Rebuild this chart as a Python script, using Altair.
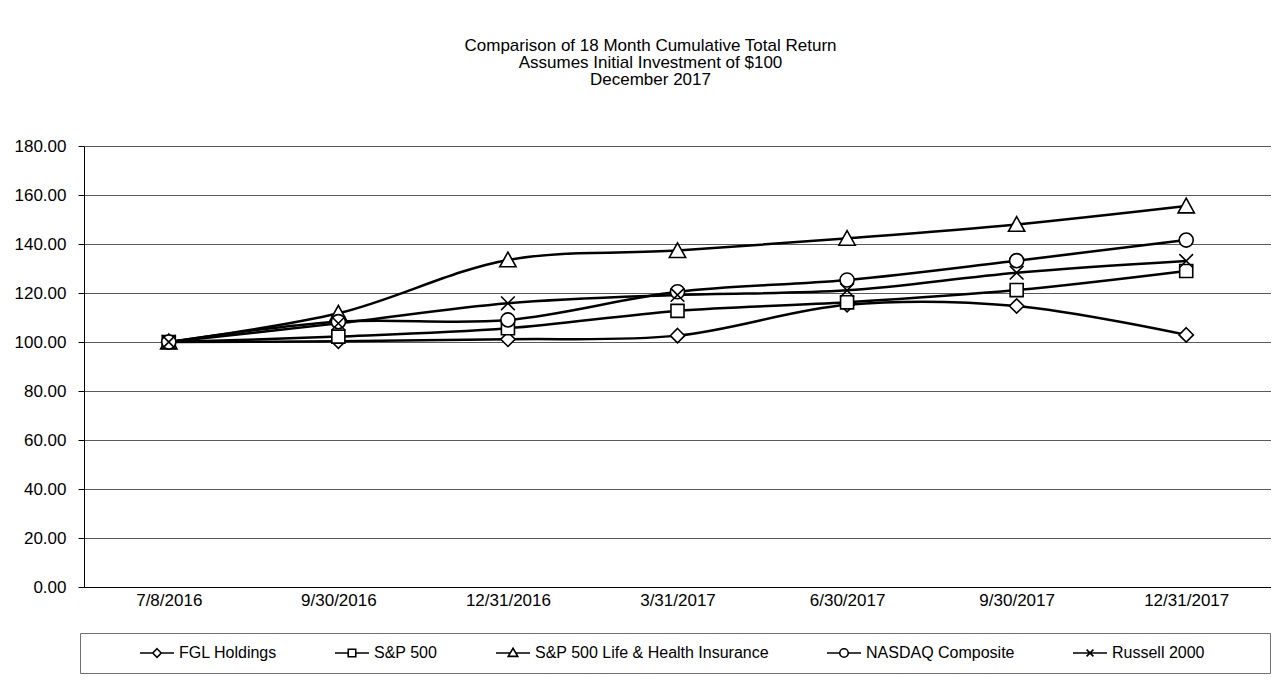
import altair as alt
import pandas as pd

# ---------------- data ----------------
dates = ["7/8/2016", "9/30/2016", "12/31/2016", "3/31/2017",
         "6/30/2017", "9/30/2017", "12/31/2017"]
series_names = ["FGL Holdings", "S&P 500", "S&P 500 Life & Health Insurance",
                "NASDAQ Composite", "Russell 2000"]
fgl = [100.0, 100.3, 101.1, 102.6, 115.2, 114.7, 102.9]
sp500 = [100.0, 102.2, 105.6, 112.7, 116.2, 121.2, 129.0]
sp500_lh = [100.0, 111.7, 133.5, 137.3, 142.3, 148.0, 155.5]
nasdaq = [100.0, 108.3, 109.0, 120.5, 125.3, 133.2, 141.6]
russell = [100.0, 107.6, 115.8, 119.2, 121.1, 128.3, 133.1]
y_ticks = [0, 20, 40, 60, 80, 100, 120, 140, 160, 180]
title_lines = ["Comparison of 18 Month Cumulative Total Return",
               "Assumes Initial Investment of $100",
               "December 2017"]

rows = []
for name, vals in zip(series_names, [fgl, sp500, sp500_lh, nasdaq, russell]):
    for i, (d, v) in enumerate(zip(dates, vals)):
        rows.append({"date": d, "series": name, "value": v, "idx": i})
df = pd.DataFrame(rows)

# ---------------- styles ----------------
FONT = "Liberation Sans"

# chart markers (custom paths, unit box)
k = 1.08 * 0.5523
marker_paths = [
    "M0,-1.1L1.1,0L0,1.1L-1.1,0Z",                       # diamond
    "M-1,-1L1,-1L1,1L-1,1Z",                             # square
    "M0,-1.2L1.25,1.05L-1.25,1.05Z",                     # triangle
    (f"M1.08,0C1.08,{k} {k},1.08 0,1.08C-{k},1.08 -1.08,{k} -1.08,0"
     f"C-1.08,-{k} -{k},-1.08 0,-1.08C{k},-1.08 1.08,-{k} 1.08,0Z"),  # circle
    "M-1.05,-1.05L1.05,1.05M-1.05,1.05L1.05,-1.05",      # x
]

# legend symbols: line with a small marker (1 unit = 5 px, line spans +-17 px)
L = 3.4          # half length of the legend line, in units
m = 0.85         # marker half size, in units
c = m * 0.5523
t = 0.163 * L
legend_paths = [
    f"M-{L},0L-{m},0M{m},0L{L},0M0,-{m}L{m},0L0,{m}L-{m},0Z",
    f"M-{L},0L-0.75,0M0.75,0L{L},0M-0.75,-0.75L0.75,-0.75L0.75,0.75L-0.75,0.75Z",
    f"M-{L},0L-{t},0M{t},0L{L},0M0,-0.95L0.95,0.68L-0.95,0.68Z",
    (f"M-{L},0L-{m},0M{m},0L{L},0M{m},0C{m},{c} {c},{m} 0,{m}"
     f"C-{c},{m} -{m},{c} -{m},0C-{m},-{c} -{c},-{m} 0,-{m}"
     f"C{c},-{m} {m},-{c} {m},0Z"),
    f"M-{L},0L{L},0M-0.68,-0.68L0.68,0.68M-0.68,0.68L0.68,-0.68",
]

ZW = "\u200b"
lead_space = ZW + "\u00a0" * 10 + ZW
trail_space = "\u00a0" * 12 + ZW

x_enc = alt.X(
    "date:N", sort=dates,
    scale=alt.Scale(type="point", padding=0.5),
    axis=alt.Axis(title=None, labelAngle=0, labelFontSize=17, labelFont=FONT,
                  labelColor="black", ticks=False, tickSize=0, labelPadding=5,
                  domainColor="black", domainWidth=1, grid=False),
)
y_enc = alt.Y(
    "value:Q",
    scale=alt.Scale(domain=[0, 180], nice=False, zero=True),
    axis=alt.Axis(title=None, values=y_ticks, format=".2f", labelFontSize=17,
                  labelFont=FONT, labelColor="black", tickSize=6,
                  tickColor="black", labelPadding=12, domainColor="black",
                  grid=True, gridColor="#5a5a5a", gridWidth=1),
)

base = alt.Chart(df)

lines = base.mark_line(interpolate="catmull-rom", color="black",
                       strokeWidth=2.5).encode(
    x=x_enc, y=y_enc, detail="series:N", order=alt.Order("idx:Q"))

points = base.mark_point(filled=True, fill="white", stroke="black",
                         strokeWidth=1.6, size=170, opacity=1).encode(
    x=x_enc, y=y_enc,
    shape=alt.Shape("series:N",
                    scale=alt.Scale(domain=series_names, range=marker_paths),
                    legend=None))

legend_layer = base.transform_filter("datum.idx < 0").mark_point(
    filled=False, color="black", stroke="black", strokeWidth=1.6, size=100
).encode(
    x=x_enc, y=y_enc,
    shape=alt.Shape(
        "series:N",
        scale=alt.Scale(domain=series_names, range=legend_paths),
        legend=alt.Legend(
            orient="none", legendX=-4, legendY=487, direction="horizontal",
            columns=5, title=lead_space, titleOrient="left", titlePadding=12,
            titleFontSize=16, titleFont=FONT, titleColor="white",
            padding=12, columnPadding=54, labelOffset=14,
            symbolSize=100, symbolStrokeWidth=1.6,
            symbolStrokeColor="black", symbolOpacity=1,
            strokeColor="#707070", labelFontSize=16, labelFont=FONT,
            labelColor="black", labelLimit=600,
            labelExpr=f"datum.label == 'Russell 2000' ? datum.label + '{trail_space}' : datum.label",
        )))

chart = alt.layer(lines, points, legend_layer).resolve_scale(
    shape="independent"
).properties(
    width=1187, height=441,
    autosize=alt.AutoSizeParams(type="none"),
    padding={"left": 76, "top": 138, "right": 0, "bottom": 90},
    title=alt.Title(text=title_lines, fontSize=17, font=FONT,
                    fontWeight="normal", anchor="middle", offset=48, dx=-27,
                    lineHeight=17, color="black"),
).configure_view(
    stroke="#808080", strokeWidth=1
).configure(background="white")

chart.save("out.html", embed_options={"renderer": "svg", "actions": False})
